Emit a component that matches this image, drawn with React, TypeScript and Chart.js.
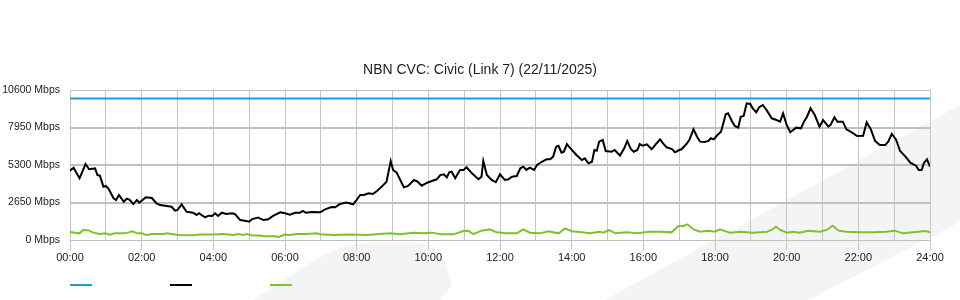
import React, { useEffect, useRef } from "react";
import { Chart, registerables } from "chart.js";

Chart.register(...registerables);

const TITLE = "NBN CVC: Civic (Link 7) (22/11/2025)";

// minutes since midnight
const capacityTimes = [0, 1440];
const capacityValues = [10000, 10000];

const downTimes = [
  0, 6, 16, 26, 32, 42, 46, 50, 56, 60, 64, 73, 77, 82, 90, 95, 100, 106, 112, 116, 120, 127, 137, 145, 151,
  162, 170, 176, 180, 187, 195, 206, 212, 216, 226, 232, 238, 243, 248, 254, 262, 271, 276, 285, 293, 300,
  305, 315, 324, 332, 340, 352, 360, 368, 377, 385, 390, 395, 405, 419, 427, 438, 444, 452, 463, 474, 480,
  486, 492, 500, 507, 514, 522, 530, 537, 541, 547, 553, 559, 566, 576, 582, 589, 598, 606, 614, 620, 626,
  631, 635, 639, 645, 653, 659, 664, 673, 684, 689, 692, 698, 706, 713, 720, 728, 734, 740, 748, 754, 759,
  764, 770, 777, 782, 790, 798, 804, 809, 814, 818, 823, 827, 832, 838, 848, 857, 862, 868, 874, 878, 882,
  886, 892, 897, 907, 912, 921, 928, 933, 939, 944, 950, 954, 959, 966, 974, 981, 988, 993, 999, 1008, 1013,
  1020, 1024, 1033, 1037, 1044, 1050, 1055, 1063, 1069, 1073, 1078, 1084, 1090, 1094, 1098, 1102, 1108,
  1113, 1119, 1123, 1128, 1133, 1139, 1143, 1149, 1154, 1160, 1167, 1175, 1183, 1189, 1194, 1200, 1206,
  1216, 1224, 1229, 1234, 1240, 1247, 1255, 1261, 1270, 1274, 1280, 1285, 1294, 1300, 1309, 1318, 1328,
  1334, 1341, 1348, 1356, 1365, 1370, 1376, 1383, 1390, 1400, 1407, 1417, 1421, 1426, 1430, 1435, 1440,
];
const downValues = [
  4900, 5110, 4360, 5370, 5000, 5060, 4590, 4550, 3770, 3820, 3650, 2950, 2830, 3180, 2710, 2920, 2830, 2540,
  2830, 2640, 2780, 3020, 2970, 2590, 2470, 2400, 2350, 2070, 2120, 2520, 2000, 1930, 1770, 1890, 1600, 1720,
  1700, 1890, 1700, 1930, 1840, 1890, 1840, 1410, 1360, 1290, 1480, 1580, 1410, 1460, 1700, 1960, 1890, 1790,
  1930, 1930, 2050, 1920, 1980, 1960, 2170, 2330, 2310, 2540, 2640, 2520, 2830, 3180, 3180, 3300, 3250, 3460,
  3770, 4120, 5580, 4950, 4760, 4240, 3720, 3820, 4240, 4120, 3840, 4050, 4170, 4290, 4590, 4640, 4430, 4780,
  4830, 4360, 4950, 4950, 5140, 4710, 4290, 4470, 5580, 4590, 4240, 4080, 4640, 4240, 4290, 4470, 4520, 5070,
  5180, 4950, 5110, 4950, 5300, 5530, 5700, 5700, 5890, 6590, 6660, 6170, 6240, 6780, 6480, 6010, 5650, 5770,
  5420, 5530, 6360, 6310, 6950, 7070, 6290, 6240, 6360, 5970, 6480, 7000, 6430, 6240, 6360, 6780, 6660, 6760,
  6410, 6780, 7110, 6830, 6550, 6430, 6200, 6360, 6410, 6830, 7070, 7820, 7300, 6950, 6930, 7000, 7190, 7110,
  7420, 7650, 8250, 8880, 8950, 8430, 8060, 7940, 8710, 8760, 9660, 9610, 9310, 9020, 9380, 9540, 9140, 8600,
  8480, 8360, 8950, 8130, 7610, 7940, 7890, 8360, 8710, 9310, 8830, 8010, 8480, 8010, 8170, 8670, 8360, 8360,
  7820, 7610, 7350, 7370, 8320, 7820, 7000, 6710, 6710, 6950, 7490, 7110, 6290, 5840, 5460, 5230, 4950, 4950,
  5460, 5700, 5180,
];

const upTimes = [
  0, 8, 16, 22, 31, 39, 50, 59, 67, 75, 92, 105, 112, 120, 128, 137, 156, 162, 173, 181, 206, 218, 240, 257,
  273, 282, 290, 296, 307, 318, 329, 340, 349, 360, 368, 380, 396, 413, 419, 441, 469, 497, 519, 536, 553,
  575, 592, 606, 620, 642, 659, 667, 675, 689, 703, 714, 731, 748, 759, 770, 787, 801, 818, 829, 840, 854,
  871, 887, 893, 903, 913, 932, 949, 971, 988, 1007, 1019, 1027, 1034, 1044, 1055, 1069, 1080, 1088, 1105,
  1122, 1144, 1167, 1175, 1182, 1189, 1200, 1211, 1222, 1236, 1256, 1267, 1277, 1287, 1300, 1323, 1345,
  1367, 1381, 1395, 1412, 1432, 1440,
];
const upValues = [
  565, 520, 470, 710, 680, 520, 420, 470, 380, 470, 470, 610, 470, 470, 350, 420, 420, 470, 400, 350, 330,
  380, 380, 420, 350, 420, 350, 420, 310, 310, 240, 280, 210, 380, 350, 420, 420, 470, 410, 350, 380, 350,
  420, 470, 400, 520, 470, 520, 400, 400, 640, 660, 420, 660, 750, 540, 470, 470, 750, 520, 470, 610, 470,
  820, 620, 560, 470, 590, 520, 700, 470, 540, 470, 590, 590, 540, 990, 990, 1110, 750, 590, 660, 590, 750,
  520, 590, 520, 590, 710, 940, 710, 520, 590, 520, 660, 590, 710, 1010, 660, 590, 540, 540, 590, 660, 470,
  540, 640, 540,
];

const Y_MAX = 10600;
const Y_STEP = 2650;

const FONT = "'Liberation Sans', Arial, Helvetica, sans-serif";

const toPoints = (t: number[], v: number[]) => t.map((m, i) => ({ x: m, y: v[i] }));
const pad2 = (n: number) => (n < 10 ? "0" + n : "" + n);

const watermark = {
  id: "watermark",
  beforeDraw(chart: any) {
    const ctx = chart.ctx;
    ctx.save();
    ctx.fillStyle = "#f3f4f6";
    ctx.beginPath();
    ctx.moveTo(253, 300);
    ctx.lineTo(318, 258);
    ctx.quadraticCurveTo(345, 243, 372, 243);
    ctx.lineTo(415, 243);
    ctx.quadraticCurveTo(440, 245, 445, 262);
    ctx.lineTo(452, 285);
    ctx.lineTo(440, 300);
    ctx.closePath();
    ctx.fill();
    ctx.beginPath();
    ctx.moveTo(605, 300);
    ctx.lineTo(960, 105);
    ctx.lineTo(960, 222);
    ctx.lineTo(808, 300);
    ctx.closePath();
    ctx.fill();
    ctx.restore();
  },
};

const lineLegend = {
  id: "lineLegend",
  afterDraw(chart: any) {
    const ctx = chart.ctx;
    const left = chart.chartArea.left;
    ctx.save();
    chart.data.datasets.forEach((ds: any, i: number) => {
      ctx.strokeStyle = ds.borderColor;
      ctx.lineWidth = 2;
      ctx.beginPath();
      ctx.moveTo(left + i * 100, 285);
      ctx.lineTo(left + i * 100 + 22, 285);
      ctx.stroke();
    });
    ctx.restore();
  },
};

export default function App() {
  const ref = useRef<HTMLCanvasElement>(null);
  useEffect(() => {
    const chart = new Chart(ref.current!, {
      type: "line",
      data: {
        datasets: [
          {
            label: "Capacity",
            data: toPoints(capacityTimes, capacityValues),
            borderColor: "#1a9fdd",
            borderWidth: 2,
            pointRadius: 0,
            tension: 0,
          },
          {
            label: "Download",
            data: toPoints(downTimes, downValues),
            borderColor: "#000000",
            borderWidth: 2,
            pointRadius: 0,
            tension: 0,
          },
          {
            label: "Upload",
            data: toPoints(upTimes, upValues),
            borderColor: "#7dc22b",
            borderWidth: 2,
            pointRadius: 0,
            tension: 0,
          },
        ],
      },
      options: {
        animation: false,
        responsive: false,
        layout: { padding: { left: 0, right: 0, top: 0, bottom: 30 } },
        plugins: {
          legend: { display: false },
          tooltip: { enabled: false },
          title: {
            display: true,
            text: TITLE,
            color: "#222",
            font: { family: FONT, size: 14, weight: "normal" },
            padding: { top: 62, bottom: 11.2 },
          },
        },
        scales: {
          x: {
            type: "linear",
            min: 0,
            max: 1440,
            afterFit: (s: any) => {
              s.height = 30;
            },
            border: { display: false },
            grid: {
              color: "#c6c6c6",
              lineWidth: 1,
              tickLength: 10,
              tickColor: (c: any) => (c.tick && c.tick.value % 120 === 0 ? "#c6c6c6" : "rgba(0,0,0,0)"),
            },
            ticks: {
              stepSize: 60,
              autoSkip: false,
              maxRotation: 0,
              padding: 1,
              color: "#222",
              font: { family: FONT, size: 11 },
              callback: (v: any) => (Number(v) % 120 === 0 ? pad2(Number(v) / 60) + ":00" : ""),
            },
          },
          y: {
            min: 0,
            max: Y_MAX,
            afterFit: (s: any) => {
              s.width = 70;
            },
            border: { display: false },
            grid: {
              color: "#c0c0c0",
              lineWidth: (c: any) => (c.tick && (c.tick.value === 0 || c.tick.value === Y_MAX) ? 1 : 2),
              drawTicks: false,
            },
            ticks: {
              stepSize: Y_STEP,
              padding: 10,
              color: "#222",
              font: { family: FONT, size: 10.5 },
              callback: (v: any) => v + " Mbps",
            },
          },
          yRight: {
            position: "right",
            min: 0,
            max: 1,
            afterFit: (s: any) => {
              s.width = 30;
            },
            border: { display: false },
            grid: { display: false, drawOnChartArea: false },
            ticks: { display: false },
          },
        },
      },
      plugins: [watermark, lineLegend],
    } as any);
    return () => chart.destroy();
  }, []);
  return (
    <div style={{ position: "absolute", left: 0, top: 0, width: 960, height: 300 }}>
      <canvas ref={ref} width={960} height={300} />
    </div>
  );
}
